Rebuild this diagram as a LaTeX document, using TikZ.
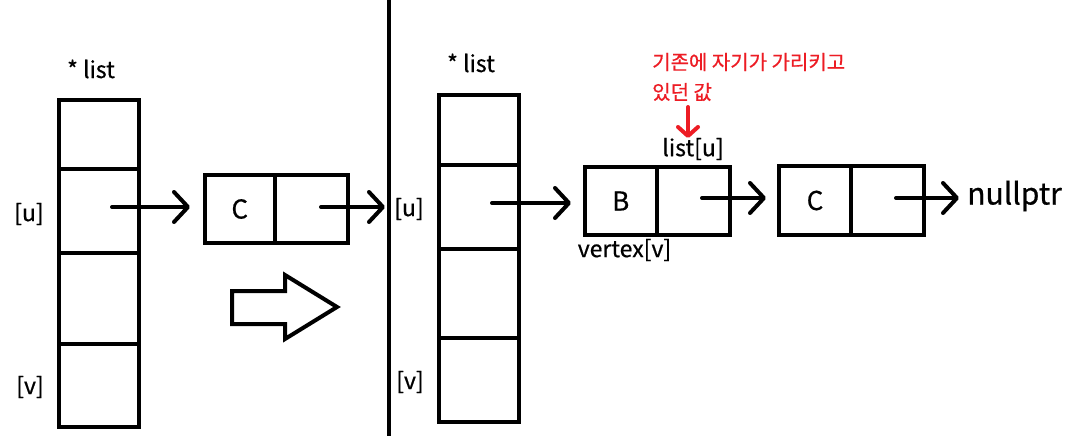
\documentclass[tikz,border=0pt]{standalone}
\usepackage{fontspec}
\setmainfont{Noto Sans CJK KR}[FakeBold=0.6]
\usetikzlibrary{arrows.meta}
\definecolor{pred}{RGB}{237,28,36}
\tikzset{
  cell/.style={draw, line width=4pt, inner sep=0pt, outer sep=0pt, font=\fontsize{26}{30}\selectfont},
  lbl/.style={inner sep=0pt, font=\fontsize{23}{26}\selectfont},
  ptr/.style={line width=4pt, line cap=round, -{Straight Barb[length=14pt,width=30pt,line cap=round,line join=round]}},
  redptr/.style={pred, line width=4pt, line cap=round, -{Straight Barb[length=9pt,width=20pt,line cap=round,line join=round]}}
}
\begin{document}
\begin{tikzpicture}[x=1pt,y=-1pt]
\useasboundingbox[fill=white] (0,0) rectangle (1074,436);
% separator
\draw[line width=4pt] (389,0) -- (389,436);
% ---------- left side ----------
\node[lbl] (llist) at (91,69) {* list};
\node[cell, minimum width=80.5pt, minimum height=69.5pt] (l0) at (98.75,134.25) {};
\node[cell, minimum width=80.5pt, minimum height=84pt] (lu) at (98.75,211) {};
\node[cell, minimum width=80.5pt, minimum height=91pt] (l2) at (98.75,298.5) {};
\node[cell, minimum width=80.5pt, minimum height=83pt] (lv) at (98.75,385.5) {};
\node[lbl] (lulbl) at (29,214) {[u]};
\node[lbl] (lvlbl) at (30,387) {[v]};
\node[cell, minimum width=70.5pt, minimum height=68pt] (c1d) at (239.75,209) {C};
\node[cell, minimum width=73pt, minimum height=68pt] (c1p) at (311.5,209) {};
\coordinate (a1s) at (112,207);
\coordinate (a1e) at (190,207);
\coordinate (a2s) at (321,207);
\coordinate (a2e) at (385,207);
\draw[ptr] (a1s) -- (a1e);
\draw[ptr] (a2s) -- (a2e);
% hollow arrow
\draw[line width=4pt, line join=miter] (232,291) -- (285,291) -- (285,275) -- (337,307) -- (285,339) -- (285,324) -- (232,324) -- cycle;
% ---------- right side ----------
\node[lbl] (rlist) at (471,63) {* list};
\node[cell, minimum width=80.5pt, minimum height=70pt] (r0) at (478.75,130) {};
\node[cell, minimum width=80.5pt, minimum height=84pt] (ru) at (478.75,207) {};
\node[cell, minimum width=80.5pt, minimum height=89pt] (r2) at (478.75,293.5) {};
\node[cell, minimum width=80.5pt, minimum height=84pt] (rv) at (478.75,380) {};
\node[lbl] (rulbl) at (409,209) {[u]};
\node[lbl] (rvlbl) at (410,382) {[v]};
\node[cell, minimum width=71.5pt, minimum height=68pt] (bd) at (620.75,201) {B};
\node[cell, minimum width=73.5pt, minimum height=68pt] (bp) at (693.25,201) {};
\node[cell, minimum width=72pt, minimum height=69pt] (c2d) at (815,200.5) {C};
\node[cell, minimum width=73pt, minimum height=69pt] (c2p) at (887.5,200.5) {};
\node[lbl] (vtx) at (624.5,250) {vertex[v]};
\node[lbl] (lstu) at (693,149) {list[u]};
\node[inner sep=0pt, font=\fontsize{30}{34}\selectfont] (null) at (1014.5,196) {nullptr};
\node[inner sep=0pt, anchor=west, align=left, text=pred, font=\fontsize{20}{30}\selectfont] (note) at (652,77) {기존에 자기가 가리키고\\있던 값};
\coordinate (a3s) at (492,203);
\coordinate (a3e) at (571,203);
\coordinate (a4s) at (702,198);
\coordinate (a4e) at (766,198);
\coordinate (a5s) at (896,198);
\coordinate (a5e) at (959,198);
\draw[ptr] (a3s) -- (a3e);
\draw[ptr] (a4s) -- (a4e);
\draw[ptr] (a5s) -- (a5e);
\coordinate (rs) at (688,107);
\coordinate (re) at (688,138);
\draw[redptr] (rs) -- (re);
\end{tikzpicture}
\end{document}
